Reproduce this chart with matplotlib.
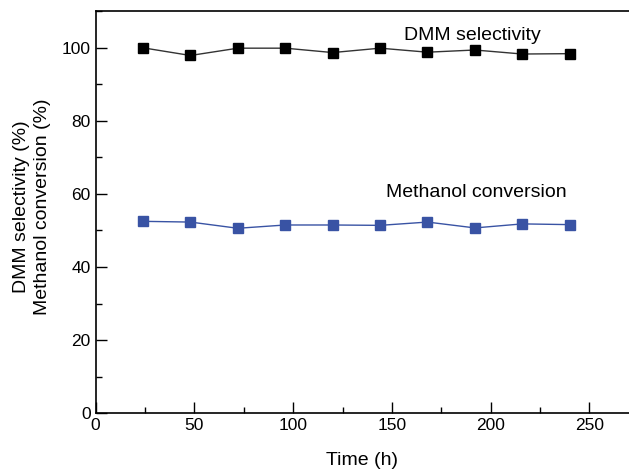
import numpy as np
import matplotlib
matplotlib.use('Agg')
import matplotlib.pyplot as plt
from matplotlib.ticker import MultipleLocator

plt.rcParams['font.family'] = ['Liberation Sans', 'DejaVu Sans']

# time on stream (h)
time_h = [24, 48, 72, 96, 120, 144, 168, 192, 216, 240]
# DMM selectivity (%)
dmm_sel = [100.0, 97.9, 99.9, 99.9, 98.7, 99.9, 98.8, 99.4, 98.3, 98.4]
# methanol conversion (%)
meoh_conv = [52.5, 52.3, 50.6, 51.5, 51.5, 51.4, 52.3, 50.7, 51.8, 51.6]

fig = plt.figure(figsize=(6.29, 4.70), dpi=100)
ax = fig.add_axes([0.152, 0.121, 0.848, 0.855])

ax.plot(time_h, dmm_sel, '-', color='#333333', lw=1.0,
        marker='s', ms=6.5, mfc='black', mec='black')
ax.plot(time_h, meoh_conv, '-', color='#3953A4', lw=1.0,
        marker='s', ms=6.5, mfc='#3953A4', mec='#3953A4')

ax.text(156, 103.3, 'DMM selectivity', fontsize=14, va='center', ha='left')
ax.text(147, 60.3, 'Methanol conversion', fontsize=14, va='center', ha='left')

ax.set_xlim(0, 270)
ax.set_ylim(0, 110)
ax.xaxis.set_major_locator(MultipleLocator(50))
ax.xaxis.set_minor_locator(MultipleLocator(25))
ax.yaxis.set_major_locator(MultipleLocator(20))
ax.yaxis.set_minor_locator(MultipleLocator(10))
ax.tick_params(which='both', direction='in', top=False, right=False, labelsize=12.5)
ax.tick_params(which='major', length=8, width=1)
ax.tick_params(which='minor', length=4, width=1)
ax.spines['right'].set_visible(False)
for s in ['left', 'bottom', 'top']:
    ax.spines[s].set_linewidth(1.2)

ax.set_xlabel('Time (h)', fontsize=14, labelpad=14)
# two-line y label, centred lines
fig.text(32 / 629, 1 - 207 / 470, 'DMM selectivity (%)\nMethanol conversion (%)',
         fontsize=14, rotation=90, ha='center', va='center',
         multialignment='center', linespacing=1.25)

fig.savefig('out.png', dpi=100)
